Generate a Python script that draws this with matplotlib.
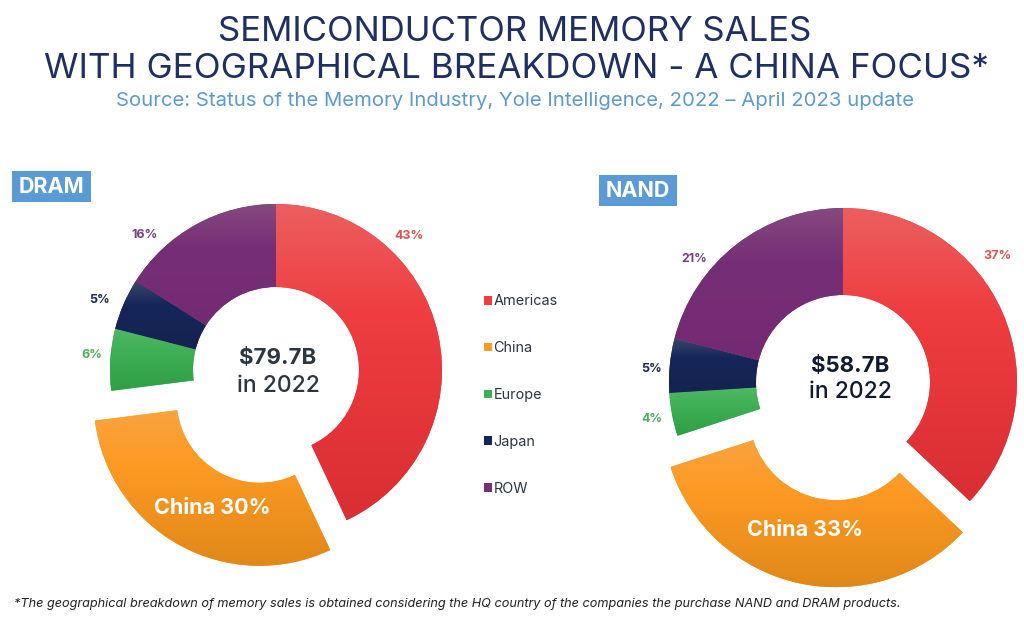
import numpy as np
import matplotlib
matplotlib.use('Agg')
import matplotlib.pyplot as plt
from matplotlib.colors import LinearSegmentedColormap
from matplotlib.patches import Rectangle

plt.rcParams['font.family'] = ['Inter', 'DejaVu Sans']

# data
regions = ['Americas', 'China', 'Europe', 'Japan', 'ROW']
dram_share = [43, 30, 6, 5, 16]
nand_share = [37, 33, 4, 5, 21]
dram_total = '$79.7B'
nand_total = '$58.7B'

# top / middle / bottom colour of each slice
gradients = [['#EC5F5F', '#EF3D40', '#D92E33'],
             ['#F9A33F', '#FD9A23', '#E0881A'],
             ['#50B966', '#3FB055', '#2E9F45'],
             ['#3C4869', '#16265A', '#14234F'],
             ['#86497F', '#762F76', '#742A72']]
text_cols = ['#D9534F', '#F7941D', '#4CAF5B', '#1D2B55', '#7B3F80']
navy = '#1F2F63'
blue = '#5B9BD5'

W, H = 1024, 630
fig = plt.figure(figsize=(W / 100, H / 100), dpi=100)
ax = fig.add_axes([0, 0, 1, 1])


def px_text(x, y, s, **kw):
    # x, y are image pixels, y going down
    kw.setdefault('ha', 'center')
    kw.setdefault('va', 'center')
    return ax.text(x, H - y, s, **kw)


def donut(values, cx, cy, r, hole, explode):
    # explode is in data units here, so pixels
    wedges, _ = ax.pie(values, colors=[g[1] for g in gradients], startangle=90, counterclock=False,
                       center=(cx, H - cy), radius=r,
                       explode=[0, explode, 0, 0, 0],
                       wedgeprops=dict(width=r - hole, linewidth=0))
    for w, g in zip(wedges, gradients):
        bb = w.get_path().get_extents(w.get_patch_transform())
        # colormap runs bottom to top, light part only near the top
        cmap = LinearSegmentedColormap.from_list('g', [(0, g[2]), (0.65, g[1]), (1, g[0])])
        grad = np.linspace(1, 0, 128).reshape(-1, 1)
        im = ax.imshow(grad, cmap=cmap, aspect='auto', zorder=w.get_zorder() + 0.1,
                       extent=(bb.x0, bb.x1, bb.y0, bb.y1))
        im.set_clip_path(w)
    return wedges


dram_wedges = donut(dram_share, 276, 370, 166, 83, 34)
nand_wedges = donut(nand_share, 843, 382, 174, 87, 32)

ax.set_xlim(0, W)
ax.set_ylim(0, H)
ax.set_aspect('auto')
ax.axis('off')

# titles
px_text(515, 32, 'SEMICONDUCTOR MEMORY SALES', fontsize=25, color=navy)
px_text(516, 69, 'WITH GEOGRAPHICAL BREAKDOWN - A CHINA FOCUS*', fontsize=25.2, color=navy)
px_text(515, 101, 'Source: Status of the Memory Industry, Yole Intelligence, 2022 – April 2023 update',
        fontsize=14.6, color='#5A9BCB')

# DRAM / NAND tags
ax.add_patch(Rectangle((12, H - 202), 79, 31, fc=blue, ec='none'))
ax.add_patch(Rectangle((598.5, H - 206), 78, 31, fc=blue, ec='none'))
px_text(51.5, 187, 'DRAM', fontsize=15.5, fontweight='bold', color='white')
px_text(637.5, 191, 'NAND', fontsize=15.5, fontweight='bold', color='white')

# percent labels, China gets the big label inside the slice
dram_label_xy = [(409, 236), None, (92, 355), (100, 300), (144, 235)]
nand_label_xy = [(997, 256), None, (652, 419), (652, 369), (694, 259)]
for vals, pos in ((dram_share, dram_label_xy), (nand_share, nand_label_xy)):
    for v, p, c in zip(vals, pos, text_cols):
        if p is not None:
            px_text(p[0], p[1], f'{v}%', fontsize=9, fontweight='bold', color=c)

px_text(212, 508.5, f'China {dram_share[1]}%', fontsize=15.5, fontweight='bold', color='white', zorder=5)
px_text(805, 530.5, f'China {nand_share[1]}%', fontsize=15.5, fontweight='bold', color='white', zorder=5)

# centre of the donuts
px_text(278, 358.5, dram_total, fontsize=16, fontweight='bold', color='#2B3640')
px_text(278, 385.5, 'in 2022', fontsize=16.5, fontweight='medium', color='#2B3640')
px_text(850, 365.5, nand_total, fontsize=16, fontweight='bold', color='#111A33')
px_text(850, 392.5, 'in 2022', fontsize=16.5, fontweight='medium', color='#111A33')

# legend
leg = ax.legend(dram_wedges, regions, loc='center left', bbox_to_anchor=(484, H - 395),
                bbox_transform=ax.transData, frameon=False, fontsize=10.4,
                handlelength=0.55, handleheight=0.55, handletextpad=0.1,
                labelspacing=2.27, borderpad=0, borderaxespad=0, labelcolor='#2B3640')

# footnote
ax.text(14, H - 604, '*The geographical breakdown of memory sales is obtained considering the HQ country of the companies the purchase NAND and DRAM products.',
        fontsize=9.15, fontstyle='italic', color='#222222', ha='left', va='center')

plt.savefig('out.png', dpi=100, facecolor='white')
